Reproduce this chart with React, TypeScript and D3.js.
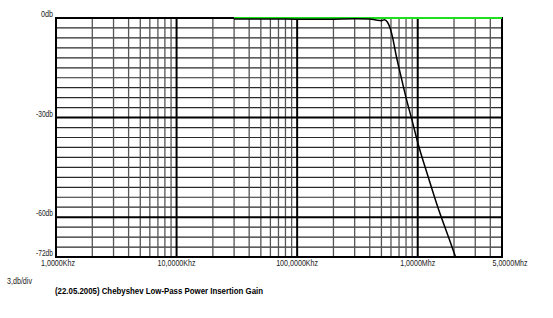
import React from "react";
import * as d3 from "d3";

const traceFreqKHz = [30, 50, 80, 120, 200, 300, 400, 450, 500, 530, 560, 590, 620, 660, 720, 800, 900, 1000, 1200, 1500, 1800, 2060];
const traceGainDb = [-0.3, -0.3, -0.3, -0.4, -0.35, -0.25, -0.3, -0.6, -0.8, -0.5, -1.2, -3, -6, -11, -17, -24, -31, -37.5, -47, -58, -66, -72];
const refFreqKHz = [30, 5000];
const refGainDb = [0, 0];
const yTickValues = [0, -30, -60, -72];
const yTickLabels = ["0db", "-30db", "-60db", "-72db"];
const xTickValues = [1, 10, 100, 1000, 5000];
const xTickLabels = ["1,0000Khz", "10,0000Khz", "100,0000Khz", "1,0000Mhz", "5,0000Mhz"];
const scaleText = "3,db/div";
const titleText = "(22.05.2005) Chebyshev Low-Pass Power Insertion Gain";

const W = 553, H = 318;
const L = 56, R = 502, T = 18, B = 257;
const yLabelW = [12, 17, 17, 17];
const xLabelW = [34, 38, 42, 35, 35];
const xLabelDx = [2, 0, 0, 0, 8];

export default function App() {
  const x = d3.scaleLog().domain([1, 5000]).range([L, R]);
  const y = d3.scaleLinear().domain([0, -72]).range([T, B]);

  const vMinor: number[] = [];
  const vMajor: number[] = [];
  for (let p = 1; p <= 1000; p *= 10) {
    for (let m = 1; m <= 9; m++) {
      const f = m * p;
      if (f > 5000) break;
      if (m === 1) vMajor.push(f);
      else vMinor.push(f);
    }
  }
  vMajor.push(5000);
  const hLines = d3.range(0, -73, -3);
  const hMajor = [0, -30, -60, -72];

  const line = d3.line<number>().x((_, i) => x(traceFreqKHz[i])).y((d) => y(d)).curve(d3.curveMonotoneX);
  const refLine = d3.line<number>().x((_, i) => x(refFreqKHz[i])).y((d) => y(d));

  const font = "'Liberation Sans', Arial, sans-serif";

  return (
    <svg width={W} height={H} style={{ position: "absolute", left: 0, top: 0, background: "#fff" }}>
      <rect x={0} y={0} width={W} height={H} fill="#fff" />
      {hLines.filter((d) => !hMajor.includes(d)).map((d) => (
        <line key={"h" + d} x1={L} x2={R} y1={y(d)} y2={y(d)} stroke="#2a2a2a" strokeWidth={1.2} />
      ))}
      {vMinor.map((f) => (
        <line key={"v" + f} x1={x(f)} x2={x(f)} y1={T} y2={B} stroke="#555" strokeWidth={1.3} />
      ))}
      {hMajor.map((d) => (
        <line key={"H" + d} x1={L - 1} x2={R + 1} y1={y(d)} y2={y(d)} stroke="#000" strokeWidth={2} />
      ))}
      {vMajor.map((f) => (
        <line key={"V" + f} x1={x(f)} x2={x(f)} y1={T - 1} y2={B + 1} stroke="#000" strokeWidth={2} />
      ))}
      <path d={refLine(refGainDb) || ""} fill="none" stroke="#1ee01e" strokeWidth={2} />
      <path d={line(traceGainDb) || ""} fill="none" stroke="#000" strokeWidth={1.5} />
      {yTickValues.map((v, i) => (
        <text key={"yl" + v} x={L - 3} y={y(v) - 1} textAnchor="end" fontFamily={font} fontSize={9} fill="#222"
          textLength={yLabelW[i]} lengthAdjust="spacingAndGlyphs">
          {yTickLabels[i]}
        </text>
      ))}
      {xTickValues.map((v, i) => (
        <text key={"xl" + v} x={x(v) + xLabelDx[i]} y={266} textAnchor="middle" fontFamily={font} fontSize={9} fill="#222"
          textLength={xLabelW[i]} lengthAdjust="spacingAndGlyphs">
          {xTickLabels[i]}
        </text>
      ))}
      <text x={7} y={284} fontFamily={font} fontSize={9} fill="#222" textLength={25} lengthAdjust="spacingAndGlyphs">{scaleText}</text>
      <text x={55} y={294} fontFamily={font} fontSize={9} fontWeight="bold" fill="#000" textLength={208} lengthAdjust="spacingAndGlyphs">{titleText}</text>
    </svg>
  );
}
